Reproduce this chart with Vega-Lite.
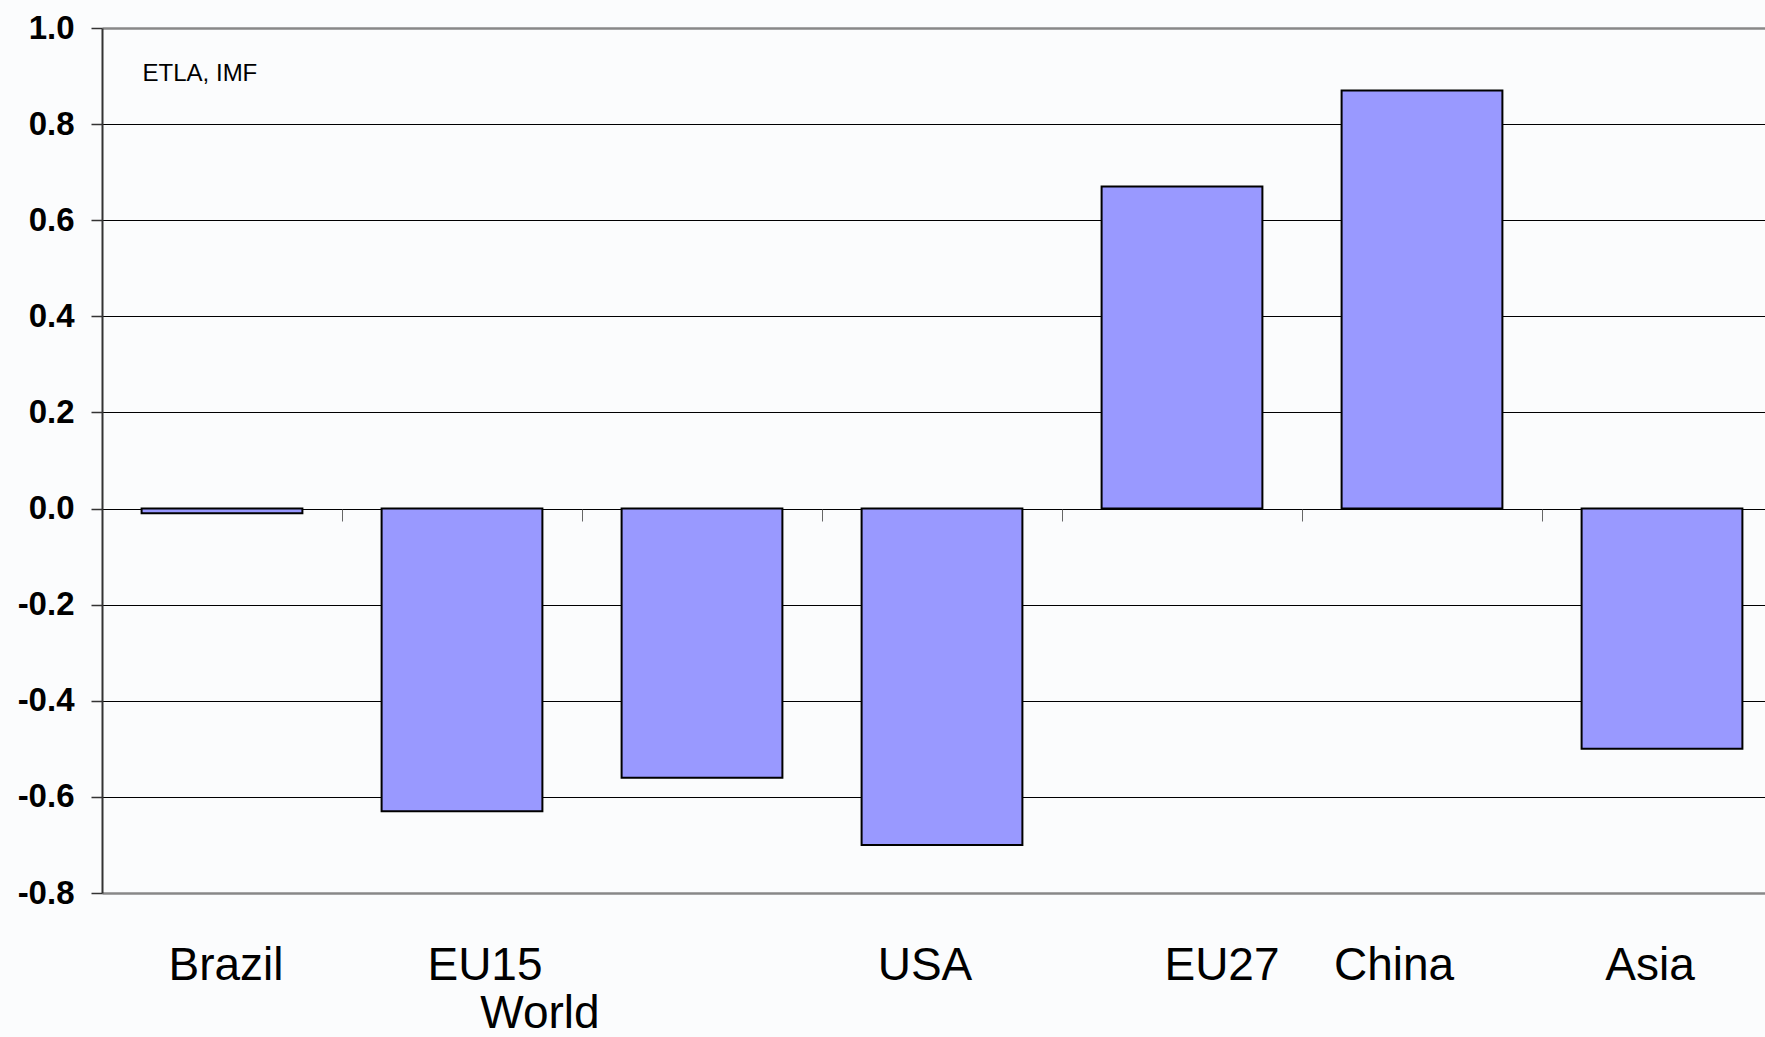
{
  "$schema": "https://vega.github.io/schema/vega-lite/v6.json",
  "width": 1663,
  "height": 865,
  "autosize": "none",
  "padding": {"left": 102, "top": 28, "right": 0, "bottom": 144},
  "background": "#fbfcfd",
  "config": {"view": {"stroke": null}, "font": "Liberation Sans"},
  "data": {
    "values": [
      {"region": "Brazil", "value": -0.01},
      {"region": "EU15", "value": -0.63},
      {"region": "World", "value": -0.56},
      {"region": "USA", "value": -0.70},
      {"region": "EU27", "value": 0.67},
      {"region": "China", "value": 0.87},
      {"region": "Asia", "value": -0.50}
    ]
  },
  "layer": [
    {
      "mark": {"type": "bar", "fill": "#9999FF", "stroke": "#000000", "strokeWidth": 2},
      "encoding": {
        "x": {
          "field": "region", "type": "nominal", "sort": null,
          "scale": {"range": [0, 1680], "paddingInner": 0.33, "paddingOuter": 0.165},
          "axis": {
            "orient": "bottom", "title": null, "ticks": false, "tickSize": 0, "domain": false, "grid": false,
            "labelFont": "Liberation Sans", "labelFontSize": 46, "labelColor": "#000000", "labelAngle": 0,
            "labelBaseline": "top",
            "labelPadding": {"condition": {"test": "datum.value === 'World'", "value": 98}, "value": 50},
            "labelOffset": {
              "condition": [
                {"test": "datum.value === 'Brazil'", "value": 4},
                {"test": "datum.value === 'EU15'", "value": 23},
                {"test": "datum.value === 'World'", "value": -162},
                {"test": "datum.value === 'USA'", "value": -17},
                {"test": "datum.value === 'EU27'", "value": 40},
                {"test": "datum.value === 'China'", "value": -28},
                {"test": "datum.value === 'Asia'", "value": -12}
              ],
              "value": 0
            }
          }
        },
        "y": {
          "field": "value", "type": "quantitative",
          "scale": {"domain": [-0.8, 1.0], "nice": false, "zero": false},
          "axis": {
            "title": null,
            "values": [1.0, 0.8, 0.6, 0.4, 0.2, 0.0, -0.2, -0.4, -0.6, -0.8],
            "labelExpr": "replace(format(datum.value, '.1f'), '\u2212', '-')",
            "labelFont": "Liberation Sans", "labelFontSize": 33, "labelFontWeight": "bold", "labelColor": "#000000",
            "labelPadding": 17, "tickSize": 11, "tickColor": "#333333", "tickWidth": 1.5,
            "domainColor": "#333333", "domainWidth": 2,
            "grid": true,
            "gridColor": {"condition": {"test": "datum.value > 0.99 || datum.value < -0.79", "value": "#888888"}, "value": "#000000"},
            "gridWidth": {"condition": {"test": "datum.value > 0.99 || datum.value < -0.79", "value": 2.5}, "value": 1}
          }
        }
      }
    },
    {
      "mark": {"type": "tick", "opacity": 0},
      "encoding": {
        "x": {
          "field": "region", "type": "nominal", "sort": null,
          "axis": {
            "orient": "bottom", "offset": -384, "title": null, "labels": false, "domain": false, "grid": false,
            "ticks": true, "tickSize": 12, "tickColor": "#666666", "tickWidth": 1, "bandPosition": 0, "tickOffset": -40
          }
        },
        "y": {"datum": 0, "type": "quantitative"}
      }
    },
    {
      "data": {"values": [{"note": "ETLA, IMF"}]},
      "mark": {"type": "text", "align": "left", "baseline": "alphabetic", "fontSize": 24, "font": "Liberation Sans", "color": "#000000", "dx": 1},
      "encoding": {
        "x": {"datum": "Brazil", "type": "nominal", "bandPosition": 0, "axis": null},
        "y": {"datum": 0.89, "type": "quantitative"},
        "text": {"field": "note"}
      }
    }
  ],
  "resolve": {"axis": {"x": "independent"}}
}
